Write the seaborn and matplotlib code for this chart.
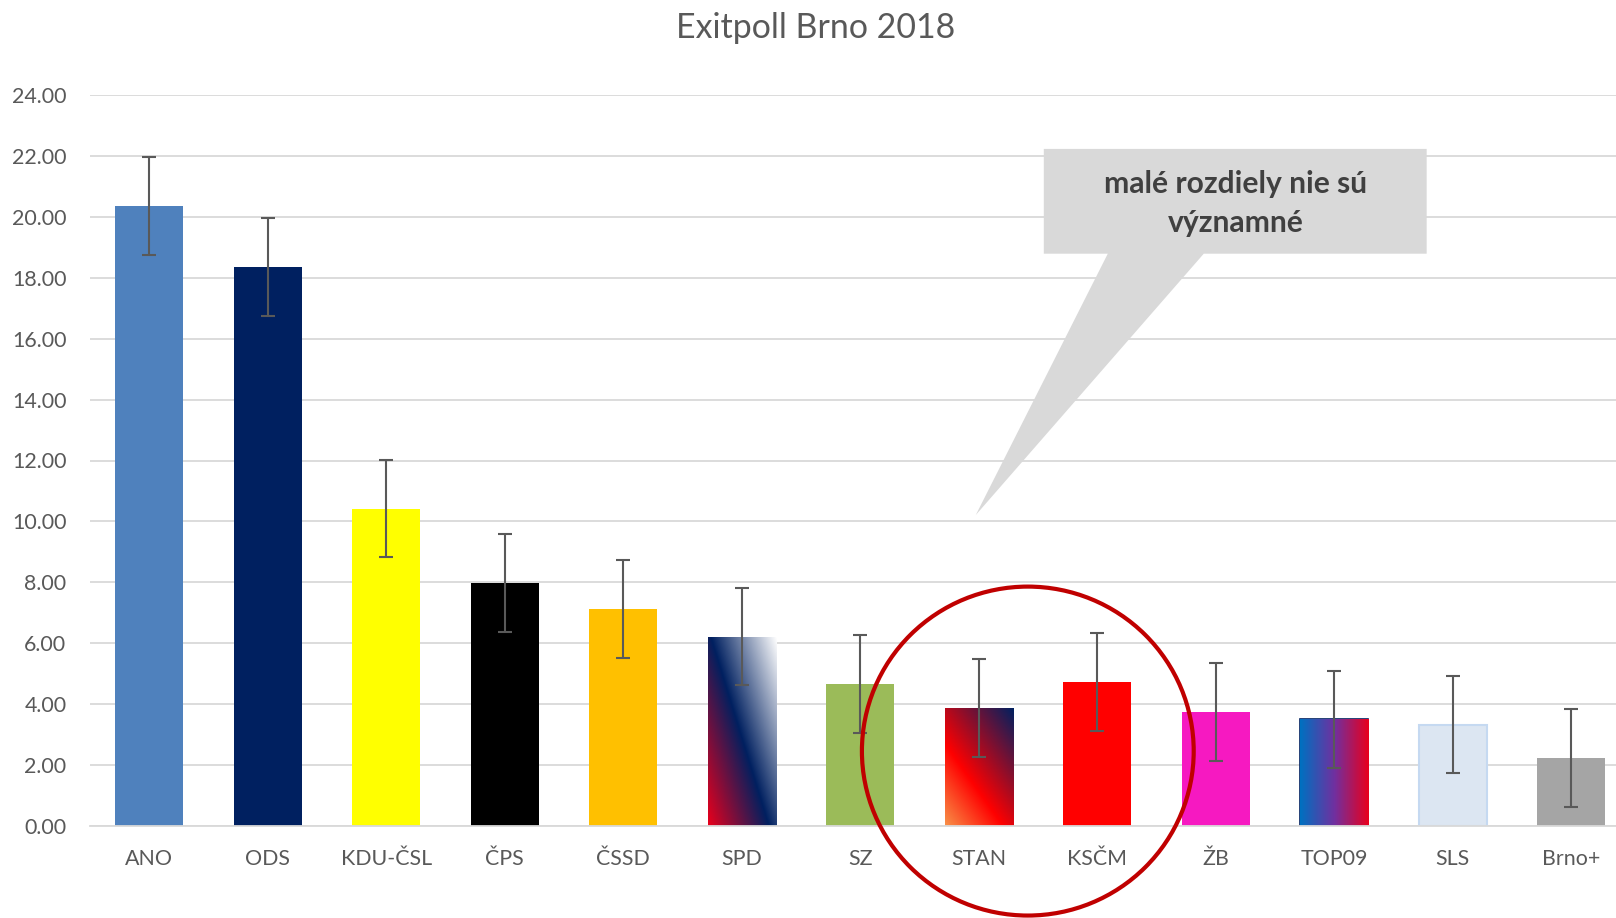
import numpy as np
import matplotlib.pyplot as plt
import seaborn as sns
from matplotlib.colors import LinearSegmentedColormap
from matplotlib.patches import Polygon, Ellipse

parties = ['ANO', 'ODS', 'KDU-ČSL', 'ČPS', 'ČSSD', 'SPD', 'SZ', 'STAN', 'KSČM', 'ŽB', 'TOP09', 'SLS', 'Brno+']
share = [20.35, 18.35, 10.42, 7.98, 7.13, 6.22, 4.66, 3.87, 4.73, 3.74, 3.50, 3.33, 2.23]
err = [1.6, 1.6, 1.6, 1.6, 1.6, 1.6, 1.6, 1.6, 1.6, 1.6, 1.6, 1.6, 1.6]
colors = ['#4F81BD', '#002060', '#FFFF00', '#000000', '#FFC000', '#002060', '#9BBB59',
          '#FF0000', '#FF0000', '#F619C1', '#7030A0', '#DCE6F2', '#A5A5A5']

# gradient fills: party -> (colour stops, weight along x, weight along y)
gradients = {
    'SPD': ([(0, '#E8001C'), (0.48, '#002060'), (1, '#FFFFFF')], 0.54, 0.46),
    'STAN': ([(0, '#F89048'), (0.38, '#FF0000'), (1, '#002060')], 0.45, 0.55),
    'TOP09': ([(0, '#0070C0'), (0.5, '#7030A0'), (1, '#E8001E')], 1.0, 0.0),
}

note = ['malé rozdiely nie sú', 'významné']

sns.set_style('white')
plt.rcParams['font.family'] = ['Lato', 'DejaVu Sans']


def fill_gradient(ax, patch, stops, wx, wy):
    x0, y0 = patch.get_x(), patch.get_y()
    w, h = patch.get_width(), patch.get_height()
    u, v = np.meshgrid(np.linspace(0, 1, 100), np.linspace(0, 1, 200))
    cmap = LinearSegmentedColormap.from_list('grad', stops)
    im = ax.imshow(wx * u + wy * v, cmap=cmap, vmin=0, vmax=1, origin='lower',
                   extent=(x0, x0 + w, y0, y0 + h), aspect='auto',
                   interpolation='bilinear', zorder=2)
    im.set_clip_path(patch)


fig = plt.figure(figsize=(16.16, 9.18), dpi=100)
ax = fig.add_axes([90 / 1616, 92 / 918, 1540.5 / 1616, 731 / 918])

sns.barplot(x=parties, y=share, hue=parties, palette=colors, legend=False,
            saturation=1, width=0.575, linewidth=0, ax=ax, zorder=2)

bars = ax.patches
for i, p in enumerate(parties):
    if p in gradients:
        stops, wx, wy = gradients[p]
        fill_gradient(ax, bars[i], stops, wx, wy)
bars[parties.index('TOP09')].set_edgecolor('#002060')
bars[parties.index('TOP09')].set_linewidth(1.2)
bars[parties.index('SLS')].set_edgecolor('#C5D9F1')
bars[parties.index('SLS')].set_linewidth(1.5)

ax.errorbar(range(len(parties)), share, yerr=err, fmt='none', ecolor='#595959',
            elinewidth=1.5, capsize=5, capthick=1.5, zorder=5)

ax.set_xlim(-0.5, 12.5)
ax.set_ylim(0, 24)
ax.set_yticks(np.arange(0, 25, 2))
ax.yaxis.set_major_formatter(plt.FormatStrFormatter('%.2f'))
ax.yaxis.grid(True, color='#D9D9D9', linewidth=1.3)
ax.set_axisbelow(True)
sns.despine(ax=ax, left=True)
ax.spines['bottom'].set_color('#D9D9D9')
ax.spines['bottom'].set_linewidth(1.3)
ax.tick_params(axis='both', length=0, labelsize=15.4, labelcolor='#595959')
ax.tick_params(axis='x', pad=16.5)
ax.tick_params(axis='y', pad=17)
ax.set_xlabel('')
ax.set_ylabel('')

# callout box with pointer
callout = Polygon([(7.549, 22.23), (10.78, 22.23), (10.78, 18.79), (8.899, 18.79),
                   (6.975, 10.21), (8.089, 18.79), (7.549, 18.79)],
                  closed=True, facecolor='#D9D9D9', edgecolor='none', zorder=6, clip_on=False)
ax.add_patch(callout)
ax.text(9.17, 21.09, note[0], ha='center', va='center', fontsize=21.6, fontweight='bold',
        color='#404040', zorder=7)
ax.text(9.17, 19.81, note[1], ha='center', va='center', fontsize=21.6, fontweight='bold',
        color='#404040', zorder=7)

# red circle around STAN / KSČM
ax.add_patch(Ellipse((7.414, 2.46), 2.80, 10.80, fill=False, edgecolor='#C00000',
                     linewidth=3, zorder=8, clip_on=False))

fig.text(816 / 1616, 1 - 28 / 918, 'Exitpoll Brno 2018', ha='center', va='center',
         fontsize=24.4, color='#595959')

fig.savefig('out.png', dpi=100)
